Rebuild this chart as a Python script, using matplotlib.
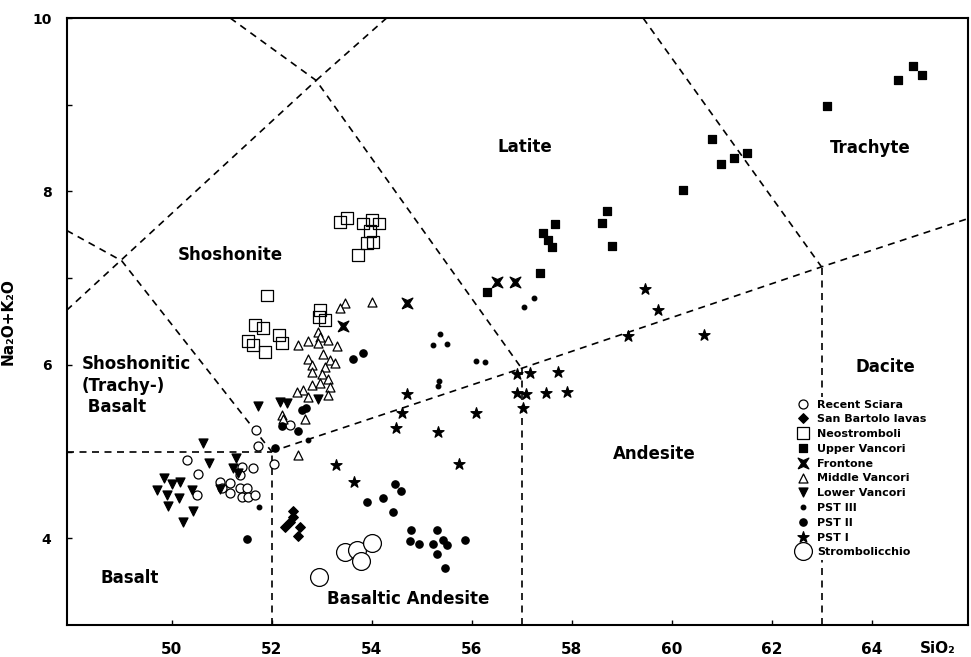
"""Stromboli rocks on a total-alkali vs silica (TAS) diagram."""

import matplotlib

matplotlib.use("Agg")

import matplotlib.pyplot as plt

# ---- boundary lines of the classification fields (SiO2, Na2O+K2O) ----
boundary_lines = [
    ([47.9, 52.0], [5.0, 5.0]),
    ([52.0, 52.0], [3.0, 5.0]),
    ([52.0, 57.0, 63.0, 66.0], [5.0, 5.96, 7.13, 7.70]),
    ([57.0, 57.0], [3.0, 5.96]),
    ([63.0, 63.0], [3.0, 7.13]),
    ([59.43, 63.0], [10.0, 7.13]),
    ([51.17, 52.89, 57.0], [10.0, 9.28, 5.96]),
    ([52.89, 54.3], [9.28, 10.0]),
    ([47.9, 52.89], [6.63, 9.28]),
    ([47.9, 49.0, 52.0], [7.55, 7.2, 5.0]),
]

field_names = ["Latite", "Trachyte", "Shoshonite", "Shoshonitic\n(Trachy-)\n Basalt",
               "Andesite", "Dacite", "Basalt", "Basaltic Andesite"]
field_x = [57.07, 63.98, 51.17, 48.2, 59.66, 64.28, 49.16, 54.73]
field_y = [8.51, 8.50, 7.27, 5.76, 4.97, 5.97, 3.54, 3.30]

# ---- samples ----
sciara_x = [50.3, 50.53, 50.5, 50.97, 51.17, 51.0, 51.17, 51.4, 51.63, 51.37,
            51.37, 51.5, 51.4, 51.53, 51.67, 51.69, 51.73, 52.05, 52.37]
sciara_y = [4.90, 4.74, 4.50, 4.65, 4.64, 4.58, 4.52, 4.82, 4.81, 4.73,
            4.58, 4.58, 4.48, 4.48, 4.50, 5.25, 5.06, 4.86, 5.31]

bartolo_x = [52.43, 52.43, 52.37, 52.27, 52.57, 52.53]
bartolo_y = [4.32, 4.24, 4.19, 4.13, 4.13, 4.03]

neo_x = [53.37, 53.50, 53.83, 54.0, 54.15, 53.97, 53.9, 54.03, 53.73, 51.9,
         51.67, 51.83, 51.53, 51.63, 51.87, 52.15, 52.2, 52.97, 53.07, 52.95]
neo_y = [7.65, 7.69, 7.63, 7.67, 7.63, 7.54, 7.40, 7.42, 7.27, 6.80,
         6.46, 6.42, 6.27, 6.23, 6.15, 6.34, 6.25, 6.63, 6.52, 6.55]

upper_x = [56.3, 57.37, 57.43, 57.53, 57.61, 57.67, 58.6, 58.7, 58.8,
           60.23, 60.81, 60.99, 61.25, 61.5, 63.11, 64.53, 64.83, 65.01]
upper_y = [6.84, 7.06, 7.52, 7.44, 7.36, 7.63, 7.64, 7.77, 7.37,
           8.02, 8.60, 8.32, 8.39, 8.44, 8.98, 9.28, 9.45, 9.34]

frontone_x = [56.5, 56.87, 54.7, 53.43]
frontone_y = [6.96, 6.96, 6.71, 6.45]

middle_x = [53.47, 53.37, 54.0, 52.93, 52.97, 52.53, 52.73, 52.93, 53.13, 53.3,
            52.73, 53.03, 53.17, 53.27, 52.8, 53.07, 52.8, 53.0, 53.13, 52.8,
            52.97, 53.17, 52.63, 52.5, 52.73, 53.13, 52.2, 52.23, 52.67, 52.53]
middle_y = [6.71, 6.65, 6.73, 6.38, 6.32, 6.23, 6.27, 6.25, 6.29, 6.22,
            6.07, 6.13, 6.06, 6.02, 6.0, 5.98, 5.92, 5.9, 5.84, 5.77,
            5.79, 5.75, 5.71, 5.69, 5.63, 5.65, 5.42, 5.38, 5.38, 4.96]

lower_x = [50.62, 50.75, 51.29, 51.23, 51.33, 49.85, 50.0, 50.17, 49.7, 49.9,
           50.15, 50.4, 50.43, 49.93, 50.23, 50.97, 51.73, 52.17, 52.3, 52.93]
lower_y = [5.10, 4.87, 4.93, 4.81, 4.75, 4.69, 4.63, 4.65, 4.56, 4.50,
           4.47, 4.56, 4.31, 4.37, 4.19, 4.57, 5.52, 5.57, 5.56, 5.61]

pst3_x = [55.37, 55.23, 55.5, 56.09, 56.27, 52.73, 51.75, 57.05, 57.25, 55.35, 55.33]
pst3_y = [6.36, 6.23, 6.24, 6.04, 6.03, 5.13, 4.36, 6.67, 6.77, 5.81, 5.76]

pst2_x = [53.63, 53.83, 52.6, 52.69, 52.2, 52.53, 52.07, 51.51, 53.9, 54.23,
          54.47, 54.58, 54.43, 54.79, 55.3, 54.77, 54.95, 55.23, 55.43, 55.51,
          55.3, 55.87, 55.47]
pst2_y = [6.07, 6.14, 5.48, 5.50, 5.29, 5.24, 5.04, 3.99, 4.42, 4.47,
          4.63, 4.55, 4.30, 4.09, 4.10, 3.97, 3.93, 3.93, 3.98, 3.92,
          3.82, 3.98, 3.66]

pst1_x = [54.7, 54.6, 54.48, 55.33, 56.09, 55.75, 53.29, 53.65, 56.9, 57.17,
          56.91, 57.08, 57.03, 57.73, 57.49, 57.91, 59.13, 60.65, 59.47, 59.73]
pst1_y = [5.66, 5.45, 5.27, 5.23, 5.45, 4.86, 4.84, 4.65, 5.90, 5.91,
          5.68, 5.66, 5.50, 5.92, 5.68, 5.69, 6.33, 6.34, 6.87, 6.63]

strombolicchio_x = [53.47, 53.7, 54.0, 53.78, 52.95]
strombolicchio_y = [3.84, 3.87, 3.95, 3.74, 3.55]

x_ticks = [50, 52, 54, 56, 58, 60, 62, 64]
y_ticks = [4, 5, 6, 7, 8, 9, 10]
y_tick_labels = ["4", "", "6", "", "8", "", "10"]

# hourglass-like marker used for Frontone
bowtie = [(-1, -1), (0, -0.55), (1, -1), (0.35, 0), (1, 1), (0, 0.55),
          (-1, 1), (-0.35, 0), (-1, -1)]

plt.rcParams["font.family"] = ["DejaVu Sans"]
plt.rcParams["font.weight"] = "bold"

fig = plt.figure(figsize=(9.71, 6.57), dpi=100)
ax = fig.add_axes([0.0687, 0.0487, 0.9282, 0.9239])

for xs, ys in boundary_lines:
    ax.plot(xs, ys, color="black", lw=1.2, dashes=(4.2, 3.3), zorder=1)

for name, fx, fy in zip(field_names, field_x, field_y):
    ha = "left" if name.startswith("Shoshonitic") else "center"
    ax.text(fx, fy, name, ha=ha, va="center", fontsize=12, fontweight="bold",
            linespacing=1.25, zorder=2)

k = dict(edgecolors="black", linewidths=0.9, zorder=3)
ax.scatter(sciara_x, sciara_y, marker="o", s=42, facecolors="white", label="Recent Sciara", **k)
ax.scatter(bartolo_x, bartolo_y, marker="D", s=24, facecolors="black", label="San Bartolo lavas", **k)
ax.scatter(neo_x, neo_y, marker="s", s=74, facecolors="none", label="Neostromboli", **k)
ax.scatter(upper_x, upper_y, marker="s", s=30, facecolors="black", label="Upper Vancori", **k)
ax.scatter(frontone_x, frontone_y, marker=bowtie, s=60, facecolors="black", label="Frontone", **k)
ax.scatter(middle_x, middle_y, marker="^", s=42, facecolors="white", label="Middle Vancori", **k)
ax.scatter(lower_x, lower_y, marker="v", s=42, facecolors="black", label="Lower Vancori", **k)
ax.scatter(pst3_x, pst3_y, marker="o", s=11, facecolors="black", label="PST III", **k)
ax.scatter(pst2_x, pst2_y, marker="o", s=28, facecolors="black", label="PST II", **k)
ax.scatter(pst1_x, pst1_y, marker="*", s=70, facecolors="black", label="PST I", **k)
ax.scatter(strombolicchio_x, strombolicchio_y, marker="o", s=165, facecolors="white",
           label="Strombolicchio", **k)

leg = ax.legend(loc="upper left", bbox_to_anchor=(0.808, 0.375), borderaxespad=0,
                borderpad=0.2, fontsize=8, labelspacing=0.43, handlelength=1.0,
                handletextpad=0.8, frameon=True, fancybox=False, framealpha=1,
                edgecolor="none", facecolor="white", scatteryoffsets=[0.5])
leg.set_zorder(5)
for t in leg.get_texts():
    t.set_fontweight("bold")

ax.set_xlim(47.9, 65.93)
ax.set_ylim(3, 10)
ax.set_xticks(x_ticks)
ax.set_xticklabels([str(v) for v in x_ticks])
ax.set_yticks(y_ticks)
ax.set_yticklabels(y_tick_labels)
ax.tick_params(axis="both", direction="in", length=3.6, width=1.0, labelsize=11)
ax.tick_params(axis="x", pad=12)
ax.tick_params(axis="y", pad=11, labelsize=10)
for sp in ax.spines.values():
    sp.set_linewidth(1.5)

ax.set_ylabel("Na\u2082O+K\u2082O", fontsize=11, fontweight="bold", labelpad=12)
ax.text(65.33, -0.038, "SiO\u2082", transform=ax.get_xaxis_transform(), ha="center",
        va="center", fontsize=11, fontweight="bold")

fig.savefig("out.png", dpi=100)
